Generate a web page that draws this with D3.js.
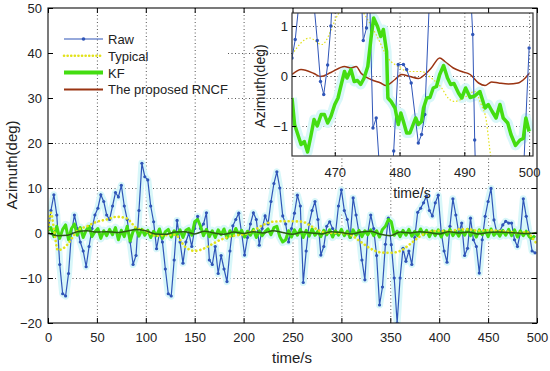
<!DOCTYPE html>
<html>
<head>
<meta charset="utf-8">
<script src="https://cdn.jsdelivr.net/npm/d3@7"></script>
<style>
  body { margin: 0; background: #fff; }
  text { font-family: "Liberation Sans", Arial, sans-serif; fill: #222; }
</style>
</head>
<body>
<div id="chart"></div>
<script>
// ---- data ----
const xTicks = [0, 50, 100, 150, 200, 250, 300, 350, 400, 450, 500];
const yTicks = [-20, -10, 0, 10, 20, 30, 40, 50];
const legendNames = ["Raw", "Typical", "KF", "The proposed RNCF"];

// Raw azimuth, one sample every 3 s from t = 0
const rawStep = 3;
const rawValues = [0, 5, 8.5, 4, -7, -13.5, -14, -9, 0, 4, 1, -2, -4, -7.5, -3, 1, 4, 5.5, 8.5, 7,
  4, 3, 6, 9, 8, 10.6, 6, 3, -2, -7, -5, 5, 15.5, 12.5, 11.8, 6, 2.5, -3.5, 0, -2,
  -8, -13.5, -14, -6, 2.8, -2, -6.7, -2, 0, -3, 1, 3.7, 1, 2, 4.5, -6, -7, -3, -9, -5,
  -8, -10.8, -4, 1.6, 3, 4.4, 0, -4.9, -1, 2, 4.5, 3, -2.7, 1, 3.8, 2, 7, 11, 13.6, 10,
  3.8, 2, -2, 1, 4.4, 8.4, 6, -11, -4, 2, 5, 7, 3, -4.9, -3, 1.5, 2.5, 1, 0, 6,
  9.6, 5, 3, -1, 7.8, 4, 0, -6, -10.4, 0, 4, 1, -5, -16, -12, -2.5, 3.3, -2.6, -10, -20,
  -10, -3.4, -6.3, -4, -7, -1, 4.6, 5.5, 6.7, 8.2, 5, 3.8, 6.7, 8.4, 0.3, -4, -6.5, 1.5, 7.6, 4,
  0, 2.2, -5, -3.4, 3.3, -1.5, -3, -8.9, -1.5, 3.7, 7, 9.9, 2.9, 0, 0.5, 1.8, 2.6, 2.2, 2.2, -1.5,
  -3, 0, 7.6, 3.7, 0, -4, -4.4];

// KF output, one sample every 3 s from t = 0
const kfStep = 3;
const kfValues = [0.5, 1.2, -0.8, 1.5, -1.2, 0.8, 1.8, -1.5, 1.0, 2.0, -0.5,
  1.2, -1.0, 0.6, 1.5, -0.8, 0.3, 1.0, -1.2, 0.5, -0.6, 0.8,
  -0.4, 1.2, -1.5, 0.6, -0.8, 1.5, -1.8, 0.4, 1.0, -0.7, 0.8,
  -0.5, 0.6, -1.0, 0.4, -0.6, 0.9, -1.2, 0.3, 0.8, -0.9, 0.5,
  -0.4, 0.7, -1.0, 0.6, 1.0, -0.5, 2.5, 3.0, 1.5, -0.6, 0.8,
  -0.8, 0.5, -1.0, 0.7, -0.4, 0.9, -1.1, 0.5, -0.6, 1.0, -0.3,
  0.6, -0.9, 0.4, -0.5, 0.8, -1.0, 0.5, -0.6, 0.3, 0.9, -0.4,
  1.2, 1.5, -0.8, -2.0, -1.5, 0.5, -0.9, 0.7, -0.5, 0.8, -1.0,
  0.6, -0.7, 0.9, -0.5, 0.4, -0.8, 0.6, -0.4, 0.7, -0.9, 0.5,
  -0.5, 0.8, -0.6, 0.4, -1.0, 0.7, -0.5, 0.6, -0.8, 0.5, -0.4,
  0.7, -0.6, 0.5, -0.9, 0.8, 1.5, 3.0, 2.5, -0.5, 0.4, -0.8,
  0.6, -0.5, 0.8, -0.7, 0.4, -0.6, 0.9, -0.4, 0.6, -0.8, 0.5,
  -0.6, 0.7, -0.9, 0.5, -0.5, 0.8, -0.6, 0.4, -0.7, 0.6, -0.5,
  0.8, -0.6, 0.5, -0.9, 0.7, -0.4, 0.6, -0.8, 0.9, -0.5, 0.4,
  -0.7, 0.6, -0.5, 0.8, -0.6, 0.7, -0.9, 0.5, -0.6, 0.4, -0.8,
  -1.2, -0.6];

// Typical method (slow curve)
const typicalTime = [0, 3, 6, 10, 15, 20, 25, 30, 40, 50, 60, 70, 80, 90, 100, 110, 120, 130, 140, 150,
  160, 170, 180, 190, 200, 210, 220, 230, 240, 250, 260, 270, 280, 290, 300, 310, 320, 330, 340, 350,
  360, 370, 380, 390, 400, 410, 420, 430, 440, 450, 460, 470, 480, 490, 495, 500];
const typicalValues = [0, 4.5, 1, -3.8, -3.5, -2.5, -1, 0.5, 1.5, 2.5, 3, 3.6, 3.3, 1.2, 0.5, -0.6, -0.5, -0.4, -3, -4,
  -3.4, -2.2, -1.2, -0.6, -0.3, 0.5, 1.8, 2.5, 2.6, 2.6, 2.5, 1.4, 0.3, 0, 0, -0.5, -2, -3.5, -4.3, -4.4,
  -4, -2.5, -0.8, 0.3, 0.5, 0.3, 0.8, 0.8, 0.5, 0.6, 0.5, 0.3, 0, 0.2, -1, -2.5];

// Proposed RNCF, one sample every 10 s
const rncfStep = 10;
const rncfValues = [0, -0.6, -0.5, 0.3, 0.5, 0.2, 0.3, 0.1, 0.4, 0.8, 0.5, -0.2, -0.3, 0.2, 0.3, -0.2, 0.4, 0, -0.3, 0.2,
  -0.1, 0.3, 0, 0.5, 0.1, -0.3, 0.2, 0, -0.2, 0.3, 0.1, -0.2, 0.2, 0.4, -0.3, -0.6, 0.2, 0, 0.3, 0.1,
  -0.2, 0.3, 0, 0.2, -0.2, 0.1, 0.2, 0.1, 0, -0.1, 0.1];

// ---- zoomed inset (t = 463..501) ----
const insetXTicks = [470, 480, 490, 500];
const insetYTicks = [-1, 0, 1];
const insetRawTime = [463.4, 463.9, 465.7, 467.3, 467.8, 468.3, 468.9, 469.4, 472, 474.4, 474.9, 475.3, 475.9, 476.4, 478,
  479.1, 479.8, 480.6, 481.1, 481.8, 482.9, 483.4, 483.9, 486, 488.5, 491.3, 491.6, 493, 497, 500];
const insetRawValues = [0.36, 0.73, 3, 0.71, -0.11, -0.37, 0.22, 1.0, 8, 0.71, 0.96, 2, -1.04, -0.84, -4,
  -1.5, 0.23, 0.23, 0.13, -0.14, -1.34, -1.17, -0.77, 6, 8, 0.83, -1.28, -8, -8, 0.56];
const insetTypicalTime = [463.4, 466.1, 468, 470.5, 472, 473.5, 474.6, 476.5, 478.2, 479.8, 481.4, 483.4, 484.9, 486.5,
  487.5, 488.5, 490, 491.6, 492.6, 493.4, 493.9, 494.5];
const insetTypicalValues = [0.43, 0.76, 0.63, 1.23, 1.5, 1.45, 1.23, 0.8, 0.36, 0.19, 0.09, 0.09, -0.04, -0.24,
  -0.44, -0.51, -0.43, -0.31, -0.57, -0.9, -1.44, -2];
const insetKfTime = [463.4, 463.8, 464.8, 465.3, 465.8, 466.3, 466.8, 467.3, 467.9, 468.4, 468.9, 469.4, 470, 470.5,
  471, 471.5, 471.9, 472.5, 473, 473.5, 474, 474.5, 475.1, 475.6, 476, 476.6, 477.1, 477.5, 478, 478.2,
  478.7, 479.3, 479.8, 480.2, 480.6, 481.1, 481.6, 482.1, 482.5, 482.9, 483.4, 483.7, 484.2, 484.7, 485.2,
  485.7, 486.2, 486.8, 487.4, 487.9, 488.4, 489.1, 489.6, 490.2, 490.9, 491.6, 492.4, 493.2, 493.7, 494.3,
  494.9, 495.5, 496, 496.7, 497.2, 497.9, 498.6, 499.1, 499.5, 500];
const insetKfValues = [-0.44, -0.97, -1.37, -1.31, -1.52, -1.21, -0.87, -1.0, -0.77, -0.77, -0.94, -0.81, -0.57, -0.44,
  -0.17, 0.09, -0.04, 0.13, -0.11, -0.09, -0.17, -0.05, 0.19, 0.76, 1.16, 0.99, 0.79, 0.93, 0.49, -0.44,
  -0.51, -0.64, -0.97, -0.74, -0.91, -1.14, -1.14, -0.97, -0.84, -0.97, -0.91, -0.64, -0.44, -0.43, -0.24,
  -0.21, 0.03, 0.21, -0.04, -0.17, -0.15, -0.34, -0.44, -0.24, -0.43, -0.40, -0.31, -0.64, -0.57, -0.71,
  -0.84, -0.57, -0.84, -0.94, -1.17, -1.39, -1.28, -1.25, -0.84, -1.11];
const insetRncfTime = [463.4, 464.8, 466.8, 467.8, 469.4, 471.5, 472.5, 473.3, 474.1, 475.6, 477.1, 477.9, 479.3, 480.3,
  481.6, 482.9, 483.9, 484.9, 486.2, 487, 488.3, 489.6, 490.9, 492.2, 493.2, 494.2, 495.3, 496.8, 498.3, 499.4, 500];
const insetRncfValues = [0.03, 0.13, 0.05, -0.01, 0.07, 0.19, 0.16, 0.19, 0.05, -0.07, -0.14, -0.19, -0.07, 0.03,
  -0.01, -0.05, 0.03, 0.16, 0.36, 0.29, 0.16, 0.09, 0.03, -0.14, -0.19, -0.12, -0.14, -0.16, -0.14, -0.04, 0.05];

// ---- colours ----
const cRaw = "#2f55b8", cTyp = "#e2e21a", cKf = "#44dd11", cRncf = "#9a3412", cRncfMain = "#2c5a16";
const cHalo = "#d8f7f9";

const W = 550, H = 371;
const svg = d3.select("#chart").append("svg").attr("width", W).attr("height", H);

const x = d3.scaleLinear().domain([0, 500]).range([48, 537]);
const y = d3.scaleLinear().domain([-20, 50]).range([323, 8]);

const zip = (ts, vs) => vs.map((v, i) => ({ t: ts[i], v }));
const stepped = (step, vs) => vs.map((v, i) => ({ t: i * step, v }));

const rawData = stepped(rawStep, rawValues);
const kfData = stepped(kfStep, kfValues);
const typData = zip(typicalTime, typicalValues);
const rncfData = stepped(rncfStep, rncfValues);

// grid
const grid = svg.append("g").attr("stroke", "#555").attr("stroke-dasharray", "1,2.5").attr("stroke-width", 1);
xTicks.slice(1, -1).forEach(t => {
  grid.append("line").attr("x1", x(t) + 0.5).attr("x2", x(t) + 0.5).attr("y1", y(50)).attr("y2", y(-20));
});
yTicks.slice(1, -1).forEach(v => {
  // legend covers the left part of the upper grid lines
  const x0 = v >= 30 ? 228 : x(0);
  grid.append("line").attr("x1", x0).attr("x2", x(500)).attr("y1", y(v) + 0.5).attr("y2", y(v) + 0.5);
});

// series
svg.append("clipPath").attr("id", "mainClip")
  .append("rect").attr("x", x(0)).attr("y", y(50)).attr("width", x(500) - x(0)).attr("height", y(-20) - y(50));
const plot = svg.append("g").attr("clip-path", "url(#mainClip)");
const line = d3.line().x(d => x(d.t)).y(d => y(d.v));
const smooth = d3.line().curve(d3.curveMonotoneX).x(d => x(d.t)).y(d => y(d.v));

plot.append("path").datum(rawData).attr("d", line).attr("fill", "none")
  .attr("stroke", cHalo).attr("stroke-width", 7).attr("stroke-linejoin", "round");
plot.append("path").datum(kfData).attr("d", line).attr("fill", "none")
  .attr("stroke", cHalo).attr("stroke-width", 8).attr("stroke-linejoin", "round");
plot.append("path").datum(rawData).attr("d", line).attr("fill", "none")
  .attr("stroke", cRaw).attr("stroke-width", 1.2);
plot.selectAll(".rawdot").data(rawData).join("circle").attr("class", "rawdot")
  .attr("cx", d => x(d.t)).attr("cy", d => y(d.v)).attr("r", 1.6).attr("fill", cRaw);
plot.append("path").datum(kfData).attr("d", line).attr("fill", "none")
  .attr("stroke", cKf).attr("stroke-width", 3).attr("stroke-linejoin", "round");
plot.append("path").datum(typData).attr("d", smooth).attr("fill", "none")
  .attr("stroke", cTyp).attr("stroke-width", 2.6).attr("stroke-linecap", "round").attr("stroke-dasharray", "0.1,4");
plot.append("path").datum(rncfData).attr("d", smooth)
  .attr("fill", "none").attr("stroke", cRncfMain).attr("stroke-width", 1.5);

// frame and axes
svg.append("rect").attr("x", x(0)).attr("y", y(50)).attr("width", x(500) - x(0)).attr("height", y(-20) - y(50))
  .attr("fill", "none").attr("stroke", "#222").attr("stroke-width", 1.2);
svg.append("g").attr("transform", `translate(0,${y(-20)})`)
  .call(d3.axisBottom(x).tickValues(xTicks).tickSizeInner(-5).tickSizeOuter(0).tickPadding(10))
  .call(g => g.select(".domain").remove())
  .call(g => g.selectAll("text").attr("font-size", 13).attr("font-family", "Liberation Sans, Arial"));
svg.append("g").attr("transform", `translate(${x(0)},0)`)
  .call(d3.axisLeft(y).tickValues(yTicks).tickSizeInner(-5).tickSizeOuter(0).tickPadding(6))
  .call(g => g.select(".domain").remove())
  .call(g => g.selectAll("text").attr("font-size", 13).attr("font-family", "Liberation Sans, Arial"));
svg.append("g").attr("transform", `translate(0,${y(50)})`)
  .call(d3.axisTop(x).tickValues(xTicks).tickSizeInner(-5).tickSizeOuter(0).tickFormat(""))
  .call(g => g.select(".domain").remove());
svg.append("g").attr("transform", `translate(${x(500)},0)`)
  .call(d3.axisRight(y).tickValues(yTicks).tickSizeInner(-5).tickSizeOuter(0).tickFormat(""))
  .call(g => g.select(".domain").remove());

svg.append("text").attr("x", 292).attr("y", 363).attr("text-anchor", "middle").attr("font-size", 15).text("time/s");
svg.append("text").attr("transform", "translate(17,165) rotate(-90)").attr("text-anchor", "middle")
  .attr("font-size", 15).text("Azimuth(deg)");

// legend
const legend = svg.append("g").attr("transform", "translate(64,39)");
legendNames.forEach((name, i) => {
  const g = legend.append("g").attr("transform", `translate(0,${i * 16.8})`);
  const l = g.append("line").attr("x1", 0).attr("x2", 39).attr("y1", 0).attr("y2", 0);
  if (i === 0) {
    l.attr("stroke", cRaw).attr("stroke-width", 1.2);
    g.append("circle").attr("cx", 19.5).attr("cy", 0).attr("r", 1.8).attr("fill", cRaw);
  } else if (i === 1) {
    l.attr("stroke", cTyp).attr("stroke-width", 2.6).attr("stroke-linecap", "round").attr("stroke-dasharray", "0.1,3.5");
  } else if (i === 2) {
    l.attr("stroke", cKf).attr("stroke-width", 4);
  } else {
    l.attr("stroke", cRncf).attr("stroke-width", 2);
  }
  g.append("text").attr("x", 44).attr("y", 5).attr("font-size", 13).text(name);
});

// ---- inset ----
const ix = d3.scaleLinear().domain([463.4, 500.6]).range([292, 533]);
const iy = d3.scaleLinear().domain([-1.6, 1.26]).range([156, 13]);
const inset = svg.append("g");
inset.append("rect").attr("x", 292).attr("y", 13).attr("width", 241).attr("height", 143).attr("fill", "#fff");

const igrid = inset.append("g").attr("stroke", "#555").attr("stroke-dasharray", "1,2.5");
insetXTicks.forEach(t => igrid.append("line").attr("x1", ix(t) + 0.5).attr("x2", ix(t) + 0.5).attr("y1", iy(1.26)).attr("y2", iy(-1.6)));
insetYTicks.forEach(v => igrid.append("line").attr("x1", ix(463.4)).attr("x2", ix(500.6)).attr("y1", iy(v) + 0.5).attr("y2", iy(v) + 0.5));

inset.append("clipPath").attr("id", "insetClip")
  .append("rect").attr("x", 292).attr("y", 13).attr("width", 241).attr("height", 143);
const iplot = inset.append("g").attr("clip-path", "url(#insetClip)");
const iline = d3.line().x(d => ix(d.t)).y(d => iy(d.v));
const ismooth = d3.line().curve(d3.curveMonotoneX).x(d => ix(d.t)).y(d => iy(d.v));
const iRaw = zip(insetRawTime, insetRawValues);
const iTyp = zip(insetTypicalTime, insetTypicalValues);
const iKf = zip(insetKfTime, insetKfValues);
const iRncf = zip(insetRncfTime, insetRncfValues);

iplot.append("path").datum(iKf).attr("d", iline).attr("fill", "none")
  .attr("stroke", cHalo).attr("stroke-width", 10).attr("stroke-linejoin", "round");
iplot.append("path").datum(iTyp).attr("d", ismooth).attr("fill", "none")
  .attr("stroke", cTyp).attr("stroke-width", 1.2).attr("stroke-dasharray", "1.5,2");
iplot.append("path").datum(iRncf).attr("d", ismooth)
  .attr("fill", "none").attr("stroke", cRncf).attr("stroke-width", 1.5);
iplot.append("path").datum(iRaw).attr("d", iline).attr("fill", "none").attr("stroke", cRaw).attr("stroke-width", 1);
iplot.selectAll(".irawdot").data(iRaw).join("circle").attr("class", "irawdot")
  .attr("cx", d => ix(d.t)).attr("cy", d => iy(d.v)).attr("r", 1.7).attr("fill", cRaw);
iplot.append("path").datum(iKf).attr("d", iline).attr("fill", "none")
  .attr("stroke", cKf).attr("stroke-width", 3.5).attr("stroke-linejoin", "round");

inset.append("rect").attr("x", 292).attr("y", 13).attr("width", 241).attr("height", 143)
  .attr("fill", "none").attr("stroke", "#333").attr("stroke-width", 1.2);
inset.append("g").attr("transform", `translate(0,${iy(-1.6)})`)
  .call(d3.axisBottom(ix).tickValues(insetXTicks).tickSizeInner(-4).tickSizeOuter(0).tickPadding(12))
  .call(g => g.select(".domain").remove())
  .call(g => g.selectAll("text").attr("font-size", 13).attr("font-family", "Liberation Sans, Arial"));
inset.append("g").attr("transform", `translate(${ix(463.4)},0)`)
  .call(d3.axisLeft(iy).tickValues(insetYTicks).tickFormat(d3.format("d")).tickSizeInner(-4).tickSizeOuter(0).tickPadding(4))
  .call(g => g.select(".domain").remove())
  .call(g => g.selectAll("text").attr("font-size", 13).attr("font-family", "Liberation Sans, Arial"));
inset.append("text").attr("x", 412).attr("y", 198).attr("text-anchor", "middle").attr("font-size", 14).text("time/s");
inset.append("text").attr("transform", "translate(265,86) rotate(-90)").attr("text-anchor", "middle")
  .attr("font-size", 14).text("Azimuth(deg)");
</script>
</body>
</html>
